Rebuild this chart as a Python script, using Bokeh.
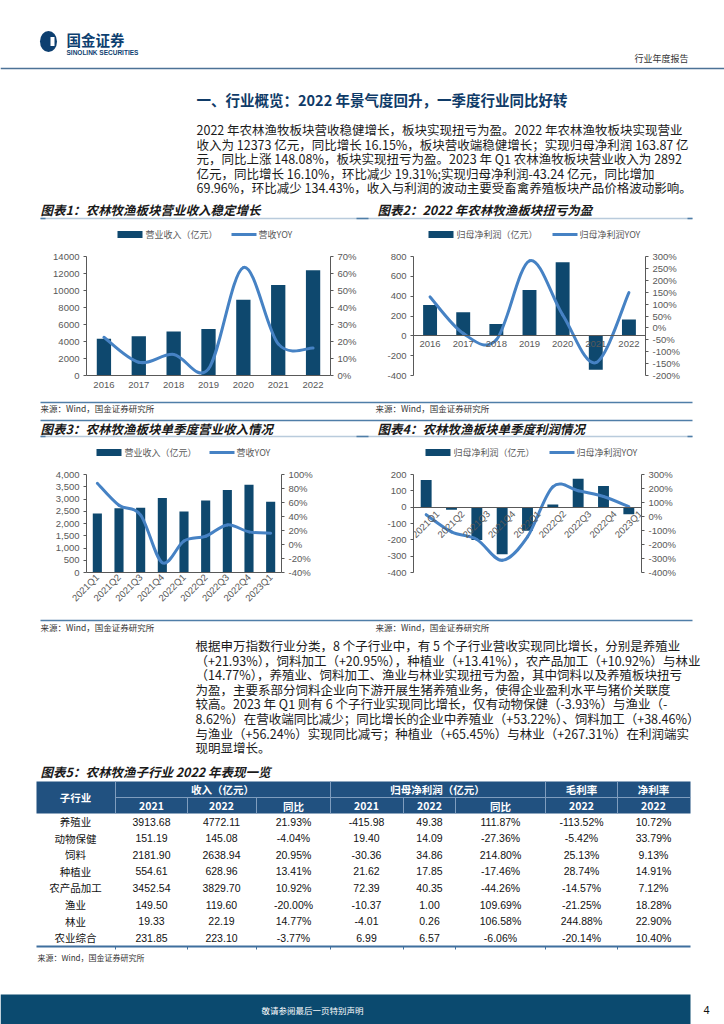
import math
from bokeh.plotting import figure
from bokeh.models import (Range1d, LinearAxis, FixedTicker, PrintfTickFormatter,
                          NumeralTickFormatter, ColumnDataSource)
from bokeh.layouts import column, row
from bokeh.embed import file_html
from bokeh.resources import INLINE
from bokeh.core.properties import value

CJK = "Noto Sans CJK SC"
LAT = "Liberation Sans"
NAVY = "#0E486E"
BLUE = "#4682C4"
AXIS = "#595959"
RULE = "#4F7EA8"
LIGHT_RULE = "#B9CBDC"
PAGE_W = 724

# ---------------- data ----------------
years = ["2016", "2017", "2018", "2019", "2020", "2021", "2022"]
revenue_annual = [4310, 4625, 5175, 5470, 8900, 10653, 12373]          # 亿元
revenue_annual_yoy = [22.5, 7.8, 12.4, 3.9, 63.5, 18.6, 16.15]         # %
profit_annual = [311, 238, 119, 463, 742, -341, 163.87]                # 亿元
profit_annual_yoy = [130, -23, -50, 282, 55, -146, 148.08]             # %

quarters = ["2021Q1", "2021Q2", "2021Q3", "2021Q4", "2022Q1",
            "2022Q2", "2022Q3", "2022Q4", "2023Q1"]
revenue_q = [2412, 2626, 2640, 3042, 2492, 2937, 3366, 3583, 2892]
revenue_q_yoy = [87.5, 56, 42, -26, 5, 11.8, 28, 18, 16.1]
profit_q = [166, -16, -201, -289, -145, 16, 174, 129, -43.24]
profit_q_yoy = [13, -110, -164, -313, -145, 212, 184, 143, 69.96]

c1_left_ticks = [0, 2000, 4000, 6000, 8000, 10000, 12000, 14000]
c1_right_ticks = [0, 10, 20, 30, 40, 50, 60, 70]
c2_left_ticks = [-400, -200, 0, 200, 400, 600, 800]
c2_right_ticks = [-200, -150, -100, -50, 0, 50, 100, 150, 200, 250, 300]
c3_left_ticks = [0, 500, 1000, 1500, 2000, 2500, 3000, 3500, 4000]
c3_right_ticks = [-40, -20, 0, 20, 40, 60, 80, 100]
c4_left_ticks = [-400, -300, -200, -100, 0, 100, 200]
c4_right_ticks = [-400, -300, -200, -100, 0, 100, 200, 300]

sub_industries = ["养殖业", "动物保健", "饲料", "种植业", "农产品加工", "渔业", "林业", "农业综合"]
rev_2021 = [3913.68, 151.19, 2181.90, 554.61, 3452.54, 149.50, 19.33, 231.85]
rev_2022 = [4772.11, 145.08, 2638.94, 628.96, 3829.70, 119.60, 22.19, 223.10]
rev_yoy = [21.93, -4.04, 20.95, 13.41, 10.92, -20.00, 14.77, -3.77]
np_2021 = [-415.98, 19.40, -30.36, 21.62, 72.39, -10.37, -4.01, 6.99]
np_2022 = [49.38, 14.09, 34.86, 17.85, 40.35, 1.00, 0.26, 6.57]
np_yoy = [111.87, -27.36, 214.80, -17.46, -44.26, 109.69, 106.58, -6.06]
gross_margin_2022 = [-113.52, -5.42, 25.13, 28.74, -14.57, -21.25, 244.88, -20.14]
net_margin_2022 = [10.72, 33.79, 9.13, 14.91, 7.12, 18.28, 22.90, 10.40]

para1 = [
    "2022 年农林渔牧板块营收稳健增长，板块实现扭亏为盈。2022 年农林渔牧板块实现营业",
    "收入为 12373 亿元，同比增长 16.15%，板块营收端稳健增长；实现归母净利润 163.87 亿",
    "元，同比上涨 148.08%，板块实现扭亏为盈。2023 年 Q1 农林渔牧板块营业收入为 2892",
    "亿元，同比增长 16.10%，环比减少 19.31%;实现归母净利润-43.24 亿元，同比增加",
    "69.96%，环比减少 134.43%，收入与利润的波动主要受畜禽养殖板块产品价格波动影响。",
]
para2 = [
    "根据申万指数行业分类，8 个子行业中，有 5 个子行业营收实现同比增长，分别是养殖业",
    "（+21.93%），饲料加工（+20.95%），种植业（+13.41%），农产品加工（+10.92%）与林业",
    "（14.77%），养殖业、饲料加工、渔业与林业实现扭亏为盈，其中饲料以及养殖板块扭亏",
    "为盈，主要系部分饲料企业向下游开展生猪养殖业务，使得企业盈利水平与猪价关联度",
    "较高。2023 年 Q1 则有 6 个子行业实现同比增长，仅有动物保健（-3.93%）与渔业（-",
    "8.62%）在营收端同比减少；同比增长的企业中养殖业（+53.22%）、饲料加工（+38.46%）",
    "与渔业（+56.24%）实现同比减亏；种植业（+65.45%）与林业（+267.31%）在利润端实",
    "现明显增长。",
]
SOURCE = "来源：Wind，国金证券研究所"


# ---------------- helpers ----------------
def canvas(y_top, y_bot):
    p = figure(width=PAGE_W, height=y_bot - y_top, x_range=Range1d(0, PAGE_W),
               y_range=Range1d(y_bot, y_top), toolbar_location=None,
               output_backend="svg", min_border=0, x_axis_type=None, y_axis_type=None)
    p.title.visible = False
    p.outline_line_color = None
    p.background_fill_color = "white"
    p.border_fill_color = "white"
    return p


def txt(p, x, y, s, size, color="#222222", font=CJK, style="normal", align="left"):
    p.text(x=[x], y=[y], text=[s], text_font=value(font), text_font_size=f"{size}px",
           text_color=color, text_font_style=style, text_align=align,
           text_baseline="middle")


def hline(p, x0, x1, y, color, width):
    p.segment(x0=[x0], y0=[y], x1=[x1], y1=[y], line_color=color, line_width=width)


def title_rule(p, y):
    hline(p, 40, 692, y, LIGHT_RULE, 1.5)
    for a, b in [(40, 45), (356, 368), (687, 692)]:
        hline(p, a, b, y, RULE, 1.5)


def legend_keys(p, y, x_bar, bar_label, x_line, line_label):
    p.quad(left=[x_bar], right=[x_bar + 25], top=[y - 3.5], bottom=[y + 3.5],
           fill_color=NAVY, line_color=None)
    txt(p, x_bar + 28, y, bar_label, 9, AXIS)
    p.segment(x0=[x_line], y0=[y], x1=[x_line + 25], y1=[y], line_color=BLUE, line_width=3)
    txt(p, x_line + 27, y, line_label, 9, AXIS)


def bezier_segments(xs, ys):
    n = len(xs)
    out = {k: [] for k in ("x0", "y0", "x1", "y1", "cx0", "cy0", "cx1", "cy1")}
    for i in range(n - 1):
        a = max(i - 1, 0)
        b = min(i + 2, n - 1)
        out["x0"].append(xs[i]); out["y0"].append(ys[i])
        out["x1"].append(xs[i + 1]); out["y1"].append(ys[i + 1])
        out["cx0"].append(xs[i] + (xs[i + 1] - xs[a]) / 6)
        out["cy0"].append(ys[i] + (ys[i + 1] - ys[a]) / 6)
        out["cx1"].append(xs[i + 1] - (xs[b] - xs[i]) / 6)
        out["cy1"].append(ys[i + 1] - (ys[b] - ys[i]) / 6)
    return out


def build_chart(cats, bars, yoy, left_range, right_range, left_ticks, right_ticks,
                left_fmt, box, frame, bar_width, zero_axis, rotate, x_standoff,
                label_shift=0.0):
    px0, py0, px1, py1 = box
    fx0, fy0, fx1, fy1 = frame
    n = len(cats)
    xs = list(range(n))
    p = figure(width=px1 - px0, height=py1 - py0, x_range=Range1d(-0.5, n - 0.5),
               y_range=Range1d(*left_range), toolbar_location=None, output_backend="svg",
               min_border_left=fx0 - px0, min_border_right=px1 - fx1,
               min_border_top=fy0 - py0, min_border_bottom=py1 - fy1)
    p.title.visible = False
    p.outline_line_color = None
    p.xgrid.visible = False
    p.ygrid.visible = False
    p.background_fill_color = "white"
    p.border_fill_color = "white"
    p.extra_y_ranges = {"yoy": Range1d(*right_range)}
    p.add_layout(LinearAxis(y_range_name="yoy"), "right")

    src = ColumnDataSource(dict(x=xs, top=bars))
    p.vbar(x="x", top="top", width=bar_width, source=src, fill_color=NAVY, line_color=None)
    seg = ColumnDataSource(bezier_segments(xs, yoy))
    p.bezier(x0="x0", y0="y0", x1="x1", y1="y1", cx0="cx0", cy0="cy0",
             cx1="cx1", cy1="cy1", source=seg, y_range_name="yoy",
             line_color=BLUE, line_width=3, line_cap="round")

    for ax in p.yaxis:
        ax.axis_line_color = AXIS
        ax.major_tick_line_color = AXIS
        ax.major_tick_in = 0
        ax.major_tick_out = 3
        ax.minor_tick_line_color = None
        ax.major_label_text_font = LAT
        ax.major_label_text_font_size = "9.5px"
        ax.major_label_text_color = AXIS
        ax.major_label_standoff = 4
    p.yaxis[0].ticker = FixedTicker(ticks=left_ticks)
    p.yaxis[0].formatter = left_fmt
    p.yaxis[1].ticker = FixedTicker(ticks=right_ticks)
    p.yaxis[1].formatter = PrintfTickFormatter(format="%d%%")

    # label anchor positions (ticks themselves are not drawn)
    tick_pos = [x + label_shift for x in xs]
    xa = p.xaxis[0]
    xa.ticker = FixedTicker(ticks=tick_pos)
    xa.major_label_overrides = {t: c for t, c in zip(tick_pos, cats)}
    xa.axis_line_color = AXIS
    xa.major_tick_line_color = None
    xa.major_tick_in = 0
    xa.major_tick_out = 0
    xa.minor_tick_line_color = None
    xa.major_label_text_font = LAT
    xa.major_label_text_font_size = "9.5px"
    xa.major_label_text_color = AXIS
    xa.major_label_standoff = x_standoff
    if zero_axis:
        xa.fixed_location = 0
    if rotate:
        xa.major_label_orientation = math.pi / 4
    return p


# ---------------- top text block (0-245) ----------------
t1 = canvas(0, 245)
t1.ellipse(x=[48], y=[41], width=[17], height=[21], fill_color="#0D3F70", line_color=None)
t1.rect(x=[52], y=[41], width=[4], height=[9], fill_color="white", line_color=None)
txt(t1, 66, 39, "国金证券", 14.5, "#0D3F70", style="bold")
txt(t1, 66, 52, "SINOLINK SECURITIES", 6.5, "#0D3F70", font=LAT, style="bold")
txt(t1, 688, 58, "行业年度报告", 9, "#333333", align="right")
hline(t1, 0, PAGE_W, 68, "#4C7296", 1.6)
txt(t1, 196, 99, "一、行业概览：2022 年景气度回升，一季度行业同比好转", 14.5, "#0F3B68", style="bold")
for i, line in enumerate(para1):
    txt(t1, 196, 129 + 14.6 * i, line, 12.5, "#1a1a1a")
txt(t1, 40, 209, "图表1：农林牧渔板块营业收入稳定增长", 12.5, "#1a1a1a", style="bold italic")
txt(t1, 377, 209, "图表2：2022 年农林牧渔板块扭亏为盈", 12.5, "#1a1a1a", style="bold italic")
title_rule(t1, 218)
legend_keys(t1, 234, 117, "营业收入（亿元）", 231, "营收YOY")
legend_keys(t1, 234, 428, "归母净利润（亿元）", 552, "归母净利润YOY")

# ---------------- charts row 1 (245-398) ----------------
c1 = build_chart(years, revenue_annual, revenue_annual_yoy, (0, 14000), (0, 70),
                 c1_left_ticks, c1_right_ticks, PrintfTickFormatter(format="%d"),
                 (0, 245, 362, 398), (86, 256, 330, 375), 0.41, False, False, 6)
c2 = build_chart(years, profit_annual, profit_annual_yoy, (-400, 800), (-200, 300),
                 c2_left_ticks, c2_right_ticks, PrintfTickFormatter(format="%d"),
                 (362, 245, 724, 398), (413, 256, 645, 382), 0.42, True, False, 5)

# ---------------- middle text block (398-462) ----------------
t2 = canvas(398, 462)
hline(t2, 40, 692, 402, RULE, 1.5)
txt(t2, 40, 407.5, SOURCE, 8.5, "#333333")
txt(t2, 375, 407.5, SOURCE, 8.5, "#333333")
hline(t2, 40, 692, 420, RULE, 1.5)
txt(t2, 40, 427.5, "图表3：农林牧渔板块单季度营业收入情况", 12.5, "#1a1a1a", style="bold italic")
txt(t2, 377, 427.5, "图表4：农林牧渔板块单季度利润情况", 12.5, "#1a1a1a", style="bold italic")
title_rule(t2, 436)
legend_keys(t2, 452, 96, "营业收入（亿元）", 209, "营收YOY")
legend_keys(t2, 452, 425, "归母净利润（亿元）", 549, "归母净利润YOY")

# ---------------- charts row 2 (462-612) ----------------
c3 = build_chart(quarters, revenue_q, revenue_q_yoy, (0, 4000), (-40, 100),
                 c3_left_ticks, c3_right_ticks, NumeralTickFormatter(format="0,0"),
                 (0, 462, 362, 612), (86, 473, 281, 572), 0.42, False, True, 3)
c4 = build_chart(quarters, profit_q, profit_q_yoy, (-400, 200), (-400, 300),
                 c4_left_ticks, c4_right_ticks, PrintfTickFormatter(format="%d"),
                 (362, 462, 724, 612), (413, 474, 641, 599), 0.43, True, True, 5,
                 label_shift=0.45)

# ---------------- bottom block (612-1024) ----------------
t3 = canvas(612, 1024)
hline(t3, 40, 692, 620, RULE, 1.5)
txt(t3, 40, 626, SOURCE, 8.5, "#333333")
txt(t3, 375, 626, SOURCE, 8.5, "#333333")
for i, line in enumerate(para2):
    txt(t3, 195, 645 + 14.6 * i, line, 12.5, "#1a1a1a")
txt(t3, 40, 771, "图表5：农林牧渔子行业 2022 年表现一览", 12.5, "#1a1a1a", style="bold italic")

HDR = "#215180"
t3.quad(left=[36], right=[690], top=[781], bottom=[813], fill_color=HDR, line_color=None)
SEP = "#7F9DBE"
for x in [115, 330, 545, 617]:
    t3.segment(x0=[x], y0=[781], x1=[x], y1=[813], line_color=SEP, line_width=1)
for x in [187, 256, 403, 455]:
    t3.segment(x0=[x], y0=[797], x1=[x], y1=[813], line_color=SEP, line_width=1)
hline(t3, 115, 690, 797, SEP, 1)

col_x = [75, 151, 221, 293, 366, 429, 500, 581, 653]
txt(t3, col_x[0], 797, "子行业", 10.5, "white", style="bold", align="center")
txt(t3, 222, 789, "收入（亿元）", 10.5, "white", style="bold", align="center")
txt(t3, 437, 789, "归母净利润（亿元）", 10.5, "white", style="bold", align="center")
txt(t3, 581, 789, "毛利率", 10.5, "white", style="bold", align="center")
txt(t3, 653, 789, "净利率", 10.5, "white", style="bold", align="center")
for x, s in zip(col_x[1:], ["2021", "2022", "同比", "2021", "2022", "同比", "2022", "2022"]):
    txt(t3, x, 805.5, s, 10.5, "white", style="bold", align="center")

columns = [
    [f"{v:.2f}" for v in rev_2021],
    [f"{v:.2f}" for v in rev_2022],
    [f"{v:.2f}%" for v in rev_yoy],
    [f"{v:.2f}" for v in np_2021],
    [f"{v:.2f}" for v in np_2022],
    [f"{v:.2f}%" for v in np_yoy],
    [f"{v:.2f}%" for v in gross_margin_2022],
    [f"{v:.2f}%" for v in net_margin_2022],
]
row_y = [821 + 16.6 * i for i in range(len(sub_industries))]
t3.text(x=[col_x[0]] * len(sub_industries), y=row_y, text=sub_industries,
        text_font=value(CJK), text_font_size="10.5px", text_color="#111111",
        text_align="center", text_baseline="middle")
for cx, vals in zip(col_x[1:], columns):
    t3.text(x=[cx] * len(vals), y=row_y, text=vals, text_font=value(LAT),
            text_font_size="10.5px", text_color="#111111", text_align="center",
            text_baseline="middle")
hline(t3, 36, 690, 946, "#3F6F9E", 2)
for x in [115, 187, 256, 330, 403, 455, 545, 617]:
    t3.segment(x0=[x], y0=[946], x1=[x], y1=[949], line_color="#3F6F9E", line_width=1)
txt(t3, 37, 957, SOURCE, 8, "#333333")

t3.quad(left=[0], right=[690], top=[994], bottom=[1024], fill_color="#0B4A6F", line_color=None)
txt(t3, 312, 1009, "敬请参阅最后一页特别声明", 8.5, "white", align="center")
txt(t3, 706, 1009, "4", 11, "#111111", font=LAT, align="center")

layout = column(t1, row(c1, c2), t2, row(c3, c4), t3)

with open("out.html", "w") as f:
    f.write(file_html(layout, INLINE))
